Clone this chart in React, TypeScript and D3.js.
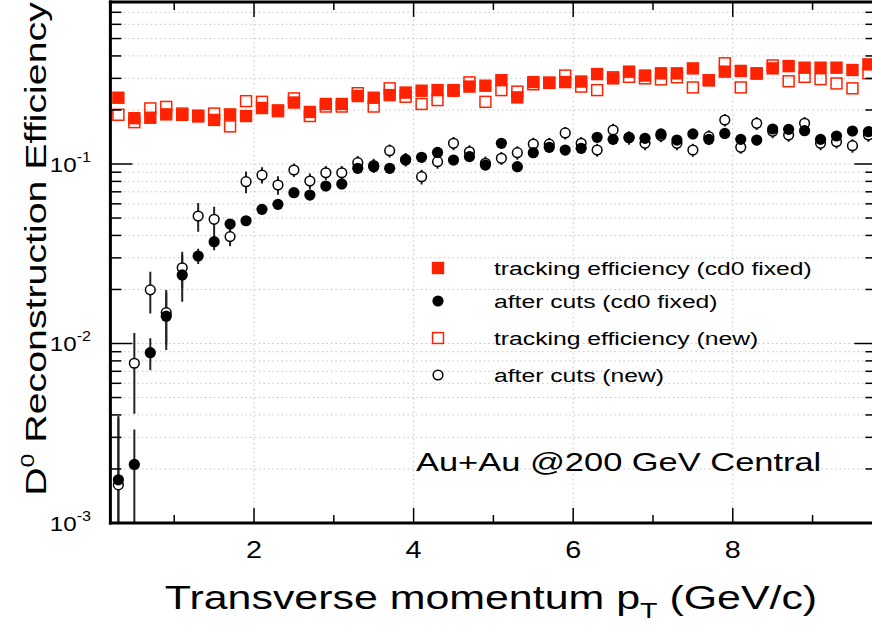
import React from 'react';
import * as d3 from 'd3';

// bin centres (GeV/c)
const pt = [0.3, 0.5, 0.7, 0.9, 1.1, 1.3, 1.5, 1.7, 1.9, 2.1, 2.3, 2.5, 2.7, 2.9, 3.1, 3.3, 3.5, 3.7, 3.9, 4.1, 4.3, 4.5, 4.7, 4.9,
  5.1, 5.3, 5.5, 5.7, 5.9, 6.1, 6.3, 6.5, 6.7, 6.9, 7.1, 7.3, 7.5, 7.7, 7.9, 8.1, 8.3, 8.5, 8.7, 8.9, 9.1, 9.3, 9.5, 9.7];

// tracking efficiency (cd0 fixed) - red filled squares
const trkFixed = [0.234, 0.180, 0.181, 0.189, 0.188, 0.184, 0.176, 0.189, 0.185, 0.205, 0.197, 0.220, 0.195, 0.216, 0.216, 0.239, 0.234, 0.242, 0.250, 0.256, 0.258, 0.256, 0.270, 0.273,
  0.293, 0.235, 0.286, 0.284, 0.286, 0.288, 0.317, 0.300, 0.327, 0.311, 0.320, 0.320, 0.341, 0.293, 0.327, 0.330, 0.319, 0.341, 0.351, 0.344, 0.344, 0.344, 0.334, 0.359];

// tracking efficiency (new) - red open squares
const trkNew = [0.188, 0.171, 0.204, 0.208, 0.191, 0.186, 0.191, 0.162, 0.224, 0.222, 0.199, 0.232, 0.185, 0.209, 0.209, 0.248, 0.209, 0.264, 0.237, 0.216, 0.227, 0.258, 0.285, 0.222,
  0.258, 0.253, 0.278, 0.283, 0.311, 0.270, 0.258, 0.304, 0.306, 0.300, 0.296, 0.304, 0.267, 0.293, 0.364, 0.267, 0.320, 0.354, 0.289, 0.306, 0.297, 0.281, 0.264, 0.320];

// after cuts (cd0 fixed) - black filled circles
const cutFixed = [0.00174, 0.00212, 0.00889, 0.0142, 0.0241, 0.0307, 0.0369, 0.0463, 0.0483, 0.0559, 0.0596, 0.0692, 0.0672, 0.0754, 0.0774, 0.0946, 0.0966, 0.0946, 0.1053, 0.109, 0.116, 0.1053, 0.110, 0.0987,
  0.1304, 0.0966, 0.1156, 0.1239, 0.1197, 0.1223, 0.1408, 0.1372, 0.1408, 0.139, 0.147, 0.136, 0.147, 0.1372, 0.148, 0.1372, 0.136, 0.1567, 0.156, 0.1533, 0.1372, 0.1432, 0.1527, 0.1514];
const cutFixedErr = [0.0022, 0.0012, 0.0018, 0.005, 0.007, 0.003, 0.0038, 0.003, 0.003, 0.0035, 0.004, 0.0045, 0.0045, 0.005, 0.005, 0.006, 0.006, 0.006, 0.007, 0.007, 0.0075, 0.007, 0.007, 0.0065,
  0.008, 0.0065, 0.0075, 0.008, 0.008, 0.008, 0.009, 0.009, 0.009, 0.009, 0.0095, 0.009, 0.0095, 0.009, 0.0095, 0.009, 0.009, 0.010, 0.010, 0.010, 0.009, 0.0095, 0.010, 0.010];

// after cuts (new) - black open circles
const cutNew = [0.00163, 0.00776, 0.0199, 0.01485, 0.0264, 0.0513, 0.0492, 0.0394, 0.0797, 0.0868, 0.0764, 0.0926, 0.0804, 0.0894, 0.0894, 0.1017, 0.098, 0.1186, 0.106, 0.085, 0.103, 0.1304, 0.117, 0.101,
  0.1076, 0.1156, 0.1292, 0.129, 0.149, 0.1304, 0.1197, 0.1547, 0.140, 0.1304, 0.144, 0.1304, 0.1197, 0.142, 0.1758, 0.1239, 0.1685, 0.152, 0.145, 0.1685, 0.1304, 0.133, 0.1265, 0.145];
const cutNewErr = [0.0022, 0.0037, 0.0052, 0.005, 0.006, 0.0094, 0.0085, 0.0046, 0.011, 0.009, 0.009, 0.008, 0.008, 0.008, 0.008, 0.009, 0.009, 0.010, 0.009, 0.008, 0.009, 0.011, 0.010, 0.009,
  0.009, 0.010, 0.011, 0.011, 0.012, 0.011, 0.010, 0.013, 0.012, 0.011, 0.012, 0.011, 0.010, 0.012, 0.014, 0.010, 0.014, 0.013, 0.012, 0.014, 0.011, 0.011, 0.011, 0.012];

const xMajor = [2, 4, 6, 8];
const xMinor = [1, 3, 5, 7, 9];
const yMajor = [0.001, 0.01, 0.1];
const yMajorExp = ['-3', '-2', '-1'];
const yMinor = [0.002, 0.003, 0.004, 0.005, 0.006, 0.007, 0.008, 0.009, 0.02, 0.03, 0.04, 0.05, 0.06, 0.07, 0.08, 0.09, 0.2, 0.3, 0.4, 0.5, 0.6, 0.7];

const legendLabels = ['tracking efficiency (cd0 fixed)', 'after cuts (cd0 fixed)', 'tracking efficiency (new)', 'after cuts (new)'];

const RED = '#ff2200';
const FONT = '"Liberation Sans", Arial, Helvetica, sans-serif';
const SX = 1.3; // glyph width stretch of the reference lettering

export default function App() {
  const W = 872, H = 630;
  const L = 110.4, R = 876.4, T = 1.9, B = 523;
  const x = d3.scaleLinear().domain([0.2, 9.8]).range([L, R]);
  const y = d3.scaleLog().domain([1e-3, 0.8]).range([B, T]);
  const yc = (v: number) => y(Math.max(v, 1e-4));

  const sq = 6.2; // half side of square marker
  const cr = 5.6; // circle radius

  const gridStyle = { stroke: '#c4c4c4', strokeWidth: 1, strokeDasharray: '1.5 3' };
  const legendY = [268, 301, 338, 375];

  return (
    <svg width={W} height={H} style={{ position: 'absolute', left: 0, top: 0, background: '#fff' }} fontFamily={FONT}>
      <defs>
        <clipPath id="plotclip">
          <rect x={L} y={T} width={R - L} height={B - T} />
        </clipPath>
      </defs>
      <rect x={0} y={0} width={W} height={H} fill="#fff" />

      {/* grid */}
      <g>
        {xMajor.map((v) => (
          <line key={'gx' + v} x1={x(v)} x2={x(v)} y1={T} y2={B} {...gridStyle} />
        ))}
        {[...yMajor, ...yMinor].map((v) => (
          <line key={'gy' + v} x1={L} x2={R} y1={y(v)} y2={y(v)} {...gridStyle} />
        ))}
      </g>

      {/* data */}
      <g clipPath="url(#plotclip)">
        {pt.map((p, i) => (
          <line key={'en' + i} x1={x(p)} x2={x(p)} y1={yc(cutNew[i] - cutNewErr[i])} y2={yc(cutNew[i] + cutNewErr[i])} stroke="#222" strokeWidth={2} />
        ))}
        {pt.map((p, i) => (
          <line key={'ef' + i} x1={x(p)} x2={x(p)} y1={yc(cutFixed[i] - cutFixedErr[i])} y2={yc(cutFixed[i] + cutFixedErr[i])} stroke="#222" strokeWidth={2} />
        ))}
        {pt.map((p, i) => (
          <rect key={'tn' + i} x={x(p) - sq + 0.75} y={y(trkNew[i]) - sq + 0.75} width={2 * sq - 1.5} height={2 * sq - 1.5} fill="none" stroke={RED} strokeWidth={1.5} />
        ))}
        {pt.map((p, i) => (
          <circle key={'cn' + i} cx={x(p)} cy={y(cutNew[i])} r={cr - 0.75} fill="#fff" stroke="#000" strokeWidth={1.5} />
        ))}
        {pt.map((p, i) => (
          <rect key={'tf' + i} x={x(p) - sq} y={y(trkFixed[i]) - sq} width={2 * sq} height={2 * sq} fill={RED} />
        ))}
        {pt.map((p, i) => (
          <circle key={'cf' + i} cx={x(p)} cy={y(cutFixed[i])} r={cr} fill="#000" />
        ))}
      </g>

      {/* ticks */}
      <g stroke="#000" strokeWidth={1.5}>
        {xMajor.map((v) => (
          <g key={'tx' + v}>
            <line x1={x(v)} x2={x(v)} y1={B} y2={B - 15} />
            <line x1={x(v)} x2={x(v)} y1={T} y2={T + 15} />
          </g>
        ))}
        {xMinor.map((v) => (
          <g key={'tmx' + v}>
            <line x1={x(v)} x2={x(v)} y1={B} y2={B - 8} />
            <line x1={x(v)} x2={x(v)} y1={T} y2={T + 8} />
          </g>
        ))}
        {yMajor.map((v) => (
          <g key={'ty' + v}>
            <line x1={L} x2={L + 22} y1={y(v)} y2={y(v)} />
            <line x1={R} x2={R - 22} y1={y(v)} y2={y(v)} />
          </g>
        ))}
        {yMinor.map((v) => (
          <g key={'tmy' + v}>
            <line x1={L} x2={L + 11} y1={y(v)} y2={y(v)} />
            <line x1={R} x2={R - 11} y1={y(v)} y2={y(v)} />
          </g>
        ))}
      </g>

      {/* frame */}
      <g stroke="#000" strokeWidth={3} fill="none">
        <line x1={L} x2={L} y1={T - 1.5} y2={B + 1.5} />
        <line x1={L - 1.5} x2={R} y1={B} y2={B} />
        <line x1={L - 1.5} x2={R} y1={T} y2={T} />
        <line x1={R} x2={R} y1={T} y2={B} />
      </g>

      {/* tick labels */}
      {xMajor.map((v) => (
        <text key={'lx' + v} transform={`translate(${x(v)},558) scale(1.2,1)`} fontSize={24} textAnchor="middle" fill="#000">{v}</text>
      ))}
      {yMajor.map((v, i) => (
        <text key={'ly' + v} transform={`translate(91,${y(v) + 7.5}) scale(1.15,1)`} fontSize={21} textAnchor="end" fill="#000">
          10<tspan dy={-10} fontSize={14}>{yMajorExp[i]}</tspan>
        </text>
      ))}

      {/* axis titles */}
      <text transform={`translate(491,609) scale(${SX},1)`} fontSize={33} textAnchor="middle" fill="#000">
        Transverse momentum p<tspan dy={9} fontSize={22}>T</tspan><tspan dy={-9}> (GeV/c)</tspan>
      </text>
      <text transform={`translate(46,249) rotate(-90) scale(1.31,1)`} fontSize={30} textAnchor="middle" fill="#000">
        D<tspan dy={-12} fontSize={19}>0</tspan><tspan dy={12}> Reconstruction Efficiency</tspan>
      </text>

      {/* legend */}
      <g>
        <rect x={438 - sq} y={legendY[0] - sq} width={2 * sq} height={2 * sq} fill={RED} />
        <circle cx={438} cy={legendY[1]} r={cr} fill="#000" />
        <rect x={438 - sq + 0.75} y={legendY[2] - sq + 0.75} width={2 * sq - 1.5} height={2 * sq - 1.5} fill="none" stroke={RED} strokeWidth={1.5} />
        <circle cx={438} cy={legendY[3]} r={cr - 0.75} fill="#fff" stroke="#000" strokeWidth={1.5} />
        {legendLabels.map((t, i) => (
          <text key={'lg' + i} transform={`translate(494,${legendY[i] + 7}) scale(${SX},1)`} fontSize={19} fill="#000">{t}</text>
        ))}
      </g>

      <text transform={`translate(416,471) scale(1.31,1)`} fontSize={26.3} fill="#000">Au+Au @200 GeV Central</text>
    </svg>
  );
}
